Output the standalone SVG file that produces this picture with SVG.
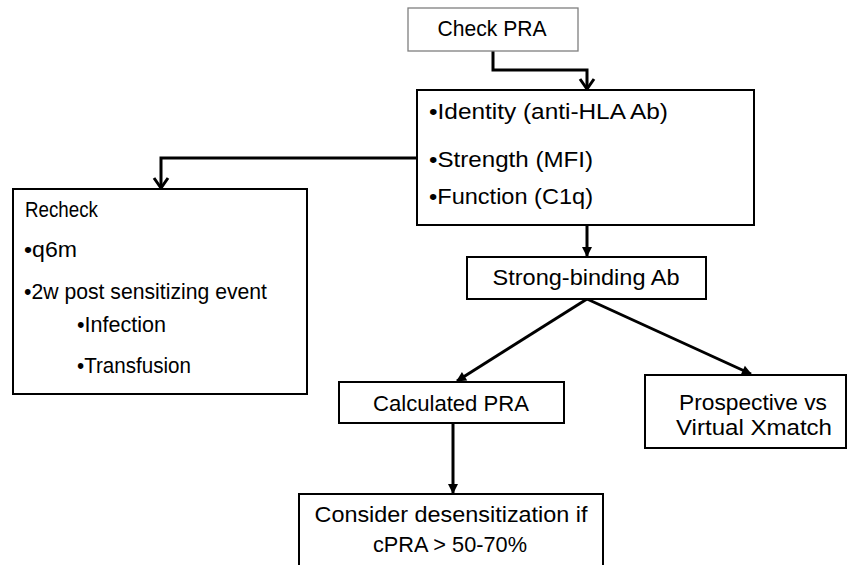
<svg xmlns="http://www.w3.org/2000/svg" width="848" height="565" viewBox="0 0 848 565">
<style>
.box{fill:#fff;stroke:#000;stroke-width:2}
.lite{fill:#fff;stroke:#7f7f7f;stroke-width:1.3}
.t{font-family:"Liberation Sans",Arial,sans-serif;font-size:22px;fill:#000}
.c{text-anchor:middle}
.con{fill:none;stroke:#000;stroke-width:3}
</style>
<defs>
<marker id="chev" viewBox="-13 -9 15 18" refX="0" refY="0" markerWidth="15" markerHeight="18" markerUnits="userSpaceOnUse" orient="auto">
<path d="M-10,-7 L0,0 L-10,7" fill="none" stroke="#000" stroke-width="3"/>
</marker>
<marker id="tri" viewBox="-10 -6 11 12" refX="0" refY="0" markerWidth="11" markerHeight="12" markerUnits="userSpaceOnUse" orient="auto">
<path d="M1,0 L-9,-5 L-9,5 Z" fill="#000"/>
</marker>
</defs>
<rect x="0" y="0" width="848" height="565" fill="#fff"/>
<g id="connectors">
<path class="con" d="M493,51 V70 H587 V89" marker-end="url(#chev)"/>
<path class="con" d="M417,158 H161 V188" marker-end="url(#chev)"/>
<path class="con" d="M587,225 V256" marker-end="url(#tri)"/>
<path class="con" d="M587,299 L457,381" marker-end="url(#tri)"/>
<path class="con" d="M587,299 L751,374" marker-end="url(#tri)"/>
<path class="con" d="M453,423 V493" marker-end="url(#tri)"/>
</g>
<g id="check-pra">
<rect class="lite" x="408" y="8" width="170" height="43"/>
<text class="t c" x="492" y="36" textLength="109" lengthAdjust="spacingAndGlyphs">Check PRA</text>
</g>
<g id="antibody-profile">
<rect class="box" x="417" y="90" width="337" height="135"/>
<text class="t" x="429" y="119" textLength="239" lengthAdjust="spacingAndGlyphs">•Identity (anti-HLA Ab)</text>
<text class="t" x="429" y="167" textLength="164" lengthAdjust="spacingAndGlyphs">•Strength (MFI)</text>
<text class="t" x="429" y="204" textLength="164" lengthAdjust="spacingAndGlyphs">•Function (C1q)</text>
</g>
<g id="recheck">
<rect class="box" x="13" y="189" width="294" height="205"/>
<text class="t" x="25" y="217" textLength="73" lengthAdjust="spacingAndGlyphs">Recheck</text>
<text class="t" x="24" y="257" textLength="53" lengthAdjust="spacingAndGlyphs">•q6m</text>
<text class="t" x="24" y="299" textLength="243" lengthAdjust="spacingAndGlyphs">•2w post sensitizing event</text>
<text class="t" x="77" y="332" textLength="89" lengthAdjust="spacingAndGlyphs">•Infection</text>
<text class="t" x="77" y="373" textLength="114" lengthAdjust="spacingAndGlyphs">•Transfusion</text>
</g>
<g id="strong-binding">
<rect class="box" x="467" y="257" width="239" height="42"/>
<text class="t c" x="586" y="285" textLength="187" lengthAdjust="spacingAndGlyphs">Strong-binding Ab</text>
</g>
<g id="calculated-pra">
<rect class="box" x="339" y="382" width="225" height="41"/>
<text class="t c" x="451" y="411" textLength="156" lengthAdjust="spacingAndGlyphs">Calculated PRA</text>
</g>
<g id="prospective">
<rect class="box" x="645" y="375" width="201" height="73"/>
<text class="t c" x="753" y="410" textLength="148" lengthAdjust="spacingAndGlyphs">Prospective vs</text>
<text class="t c" x="754" y="435" textLength="156" lengthAdjust="spacingAndGlyphs">Virtual Xmatch</text>
</g>
<g id="desensitization">
<rect class="box" x="299" y="494" width="304" height="80"/>
<text class="t c" x="451" y="522" textLength="273" lengthAdjust="spacingAndGlyphs">Consider desensitization if</text>
<text class="t c" x="450" y="552" textLength="154" lengthAdjust="spacingAndGlyphs">cPRA &gt; 50-70%</text>
</g>
</svg>
